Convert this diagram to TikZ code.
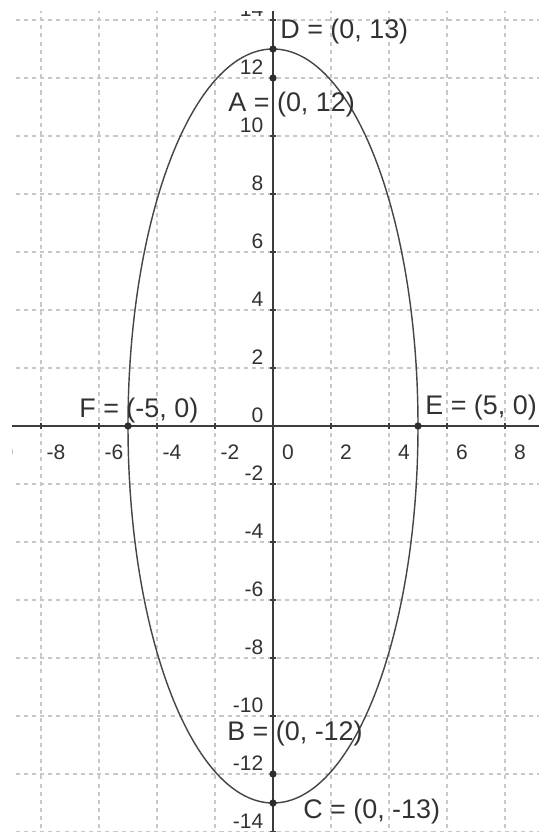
\documentclass[tikz,border=0pt]{standalone}
\usepackage{fontspec}
\setmainfont{Liberation Sans}
\definecolor{gridcolor}{RGB}{200,200,200}
\definecolor{axiscolor}{RGB}{60,60,60}
\definecolor{curvecolor}{RGB}{70,70,70}
\definecolor{pointcolor}{RGB}{45,45,45}
\definecolor{labelcolor}{RGB}{50,50,50}
\tikzset{
    gridline/.style={draw=gridcolor, dash pattern=on 2pt off 2pt, line width=0.5pt},
    axisline/.style={draw=axiscolor, line width=0.75pt},
    curve/.style={draw=curvecolor, line width=0.7pt},
    dot/.style={circle, fill=pointcolor, inner sep=0pt, minimum size=3.6pt},
    ticklabel/.style={font=\fontsize{10.3}{12}\selectfont, inner sep=0pt, text=labelcolor},
    ptlabel/.style={font=\fontsize{13.2}{15}\selectfont, inner sep=0pt, text=labelcolor, anchor=west}
}

\begin{document}
\begin{tikzpicture}[x=0.5cm, y=0.5cm]
    \useasboundingbox (-9.414,-14.0) rectangle (9.172,14.69);
    \begin{scope}
    \clip (-9.0,-14.0) rectangle (9.172,14.28);

    % grid
    \foreach \x in {-8,-6,...,8} \draw[gridline] (\x,-15) -- (\x,15);
    \foreach \y in {-14,-12,...,14} \draw[gridline] (-10,\y) -- (10,\y);

    % axes and ticks
    \draw[axisline] (-10,0) -- (10,0);
    \draw[axisline] (0,-15) -- (0,15);
    \foreach \x in {-10,-8,...,8} \draw[axisline] (\x,-0.1) -- (\x,0.1);
    \foreach \y in {-14,-12,...,14} \draw[axisline] (-0.1,\y) -- (0.1,\y);

    \foreach \x in {-10,-8,...,8}
        \node[ticklabel] (xl\x) at (\x+0.52,-0.9) {\x};
    \foreach \y in {-14,-12,...,14}
        \node[ticklabel, anchor=south east] (yl\y) at (-0.32,\y+0.1) {\y};

    % ellipse and points
    \draw[curve] (0,0) ellipse [x radius=5, y radius=13];

    \node[dot] (D) at (0,13) {};
    \node[dot] (A) at (0,12) {};
    \node[dot] (B) at (0,-12) {};
    \node[dot] (C) at (0,-13) {};
    \node[dot] (E) at (5,0) {};
    \node[dot] (F) at (-5,0) {};

    \node[ptlabel] (Dlabel) at (0.24,13.59) {D = (0, 13)};
    \node[ptlabel] (Alabel) at (-1.55,11.07) {A = (0, 12)};
    \node[ptlabel] (Blabel) at (-1.59,-10.59) {B = (0, -12)};
    \node[ptlabel] (Clabel) at (1.03,-13.28) {C = (0, -13)};
    \node[ptlabel] (Elabel) at (5.24,0.62) {E = (5, 0)};
    \node[ptlabel] (Flabel) at (-6.69,0.55) {F = (-5, 0)};
    \end{scope}
\end{tikzpicture}
\end{document}
